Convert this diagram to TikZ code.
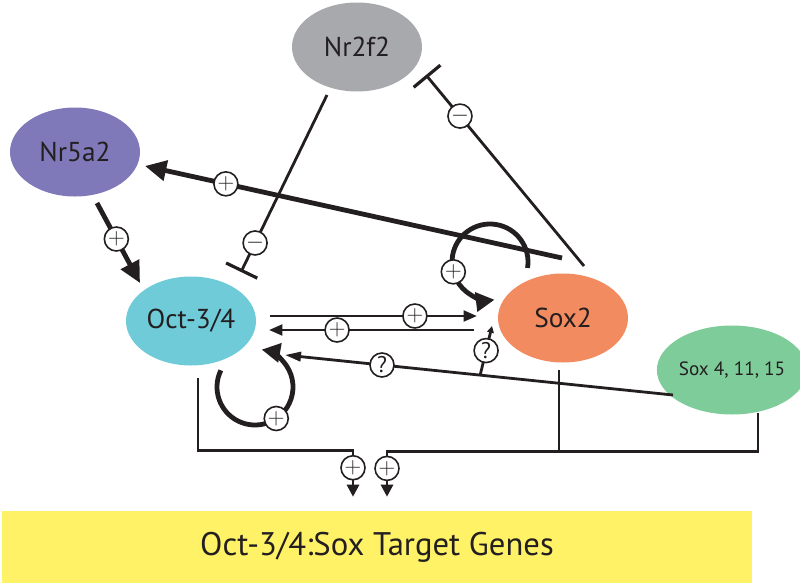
\documentclass[tikz,border=0pt]{standalone}
\usepackage{fontspec}
\setmainfont{PT Sans}
\usetikzlibrary{arrows.meta,shapes.geometric}

\definecolor{ink}{HTML}{231F20}
\definecolor{cGrey}{HTML}{A7A9AC}
\definecolor{cPurple}{HTML}{8079B9}
\definecolor{cCyan}{HTML}{6FCBD8}
\definecolor{cOrange}{HTML}{F38B60}
\definecolor{cGreen}{HTML}{7ECC99}
\definecolor{cYellow}{HTML}{FFF266}

\begin{document}
\begin{tikzpicture}[x=0.75pt,y=-0.75pt,
    gene/.style={ellipse,inner sep=0pt,minimum width=97.5pt,minimum height=66.75pt,
      font=\fontsize{20.5}{24}\selectfont,text=ink},
    link/.style={draw=ink,line width=2.1pt},
    heavy/.style={draw=ink,line width=3.6pt},
    badge/.style={circle,draw=ink,fill=white,line width=1.2pt,inner sep=0pt,
      minimum size=18pt,font=\fontsize{17}{17}\selectfont,text=ink},
    act/.style={-{Triangle[length=10pt,width=8pt]}},
    bigact/.style={-{Triangle[length=16pt,width=15pt]}},
    loopact/.style={-{Triangle[length=14pt,width=14pt]}},
    botact/.style={-{Triangle[length=9pt,width=9pt]}},
    inh/.style={-{Bar[width=26pt,line width=2.4pt]}}]

  \useasboundingbox (0,0) rectangle (800,586);

  \node[gene,fill=cGrey] (nrtwo) at (357,47) {Nr2f2};
  \node[gene,fill=cPurple] (nrfive) at (75,152) {Nr5a2};
  \node[gene,fill=cCyan] (oct) at (191,321) {Oct-3/4};
  \node[gene,fill=cOrange] (sox) at (563,318) {Sox2};
  \node[gene,fill=cGreen,font=\fontsize{14.4}{16}\selectfont] (soxb) at (732,370) {Sox 4, 11, 15};
  \node[fill=cYellow,minimum width=562.5pt,minimum height=54pt,inner sep=0pt,
    font=\fontsize{24.5}{28}\selectfont,text=ink] (target) at (377,547) {Oct-3/4:Sox Target Genes};

  % activation and inhibition
  \draw[heavy,bigact] ([shift={(22,51)}]nrfive.center)
    -- node[badge,pos=0.45] (nrfiveoct) {$+$} ([shift={(-51,-38)}]oct.center);
  \draw[heavy,bigact] ([shift={(-1,-60)}]sox.center)
    -- node[badge,pos=0.806] (soxnrfive) {$+$} ([shift={(70,14)}]nrfive.center);
  \draw[link,inh] ([shift={(-30,48)}]nrtwo.center)
    -- node[badge,pos=0.836] (nrtwooct) {$-$} ([shift={(50,-49)}]oct.center);
  \draw[link,inh] ([shift={(21,-52)}]sox.center)
    -- node[badge,pos=0.785] (soxnrtwo) {$-$} ([shift={(69,28)}]nrtwo.center);
  \draw[link,act] ([shift={(79,-5)}]oct.center)
    -- node[badge,pos=0.7] (octsox) {$+$} ([shift={(-86,-2)}]sox.center);
  \draw[link,act] ([shift={(-89,12)}]sox.center)
    -- node[badge,pos=0.668] (soxoct) {$+$} ([shift={(78,9)}]oct.center);
  \draw[link,-{Triangle[length=12pt,width=7pt]}] ([shift={(-59,25)}]soxb.center)
    -- coordinate[pos=0.497] (fork) node[badge,pos=0.75] (soxboct) {?} ([shift={(94,34)}]oct.center);
  \draw[link,-{Triangle[length=5pt,width=5pt]}] (fork)
    -- node[badge,pos=0.5] (soxbsox) {?} ([shift={(-71,8)}]sox.center);

  % self loops
  \coordinate (octloop) at ([shift={(64,66)}]oct.center);
  \coordinate (soxloop) at ([shift={(-73,-56)}]sox.center);
  \draw[heavy,loopact] (octloop) ++(206:38) arc[start angle=206,end angle=-80,radius=38];
  \node[badge] (octself) at ([shift={(56:38)}]octloop) {$+$};
  \draw[heavy,loopact] (soxloop) ++(9:38) arc[start angle=9,end angle=-277,radius=38];
  \node[badge] (soxself) at ([shift={(165:38)}]soxloop) {$+$};

  % to target genes
  \draw[link,botact] ([shift={(7,57)}]oct.center) |- ([shift={(-24,-60)}]target.north)
    -- node[badge,pos=0.37] (octtarget) {$+$} ([shift={(-24,-14)}]target.north);
  \draw[link] ([shift={(-4,52)}]sox.center) -- ++(0,82);
  \draw[link,botact] ([shift={(26,43)}]soxb.center) |- ([shift={(10,-59)}]target.north)
    -- node[badge,pos=0.37] (soxtarget) {$+$} ([shift={(10,-14)}]target.north);
\end{tikzpicture}
\end{document}
